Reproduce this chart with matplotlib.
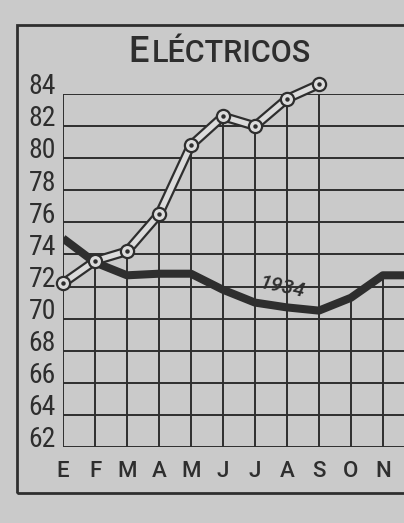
import matplotlib.pyplot as plt
from matplotlib.patches import Rectangle

# meses (E = enero ... N = noviembre), la imagen está cortada antes de D
meses = ["E", "F", "M", "A", "M", "J", "J", "A", "S", "O", "N"]
yticks = [62, 64, 66, 68, 70, 72, 74, 76, 78, 80, 82, 84]

# serie clara (1935) solo hasta septiembre
serie_clara = [72.2, 73.6, 74.2, 76.5, 80.8, 82.6, 82.0, 83.7, 84.6]
# serie negra 1934, con diciembre (fuera del recorte)
serie_1934 = [75.0, 73.5, 72.7, 72.8, 72.8, 71.8, 71.0, 70.7, 70.5, 71.3, 72.7, 72.7]

fondo = "#cacaca"
tinta = "#2e2e2e"
fuente = ["Roboto Condensed", "Liberation Sans Narrow", "DejaVu Sans"]
fuente_ancha = ["Roboto", "DejaVu Sans"]

fig = plt.figure(figsize=(4.04, 5.23), dpi=100, facecolor=fondo)
ax = fig.add_axes([0.156, 0.1453, 0.844, 0.675])
ax.set_facecolor(fondo)
ax.set_xlim(0, 10.66)
ax.set_ylim(62, 84)
for s in ax.spines.values():
    s.set_visible(False)
ax.set_xticks([])
ax.set_yticks([])

# marco exterior
fig.patches.append(Rectangle((0.042, 0.0574), 1.2, 0.8946, transform=fig.transFigure,
                             fill=False, edgecolor=tinta, linewidth=2.0))

# cuadrícula horizontal completa
ax.hlines(yticks, 0, 10.66, color=tinta, linewidth=1.4, zorder=1)
# verticales hasta la curva más alta
for i in range(len(meses)):
    tope = serie_1934[i]
    if i < len(serie_clara):
        tope = max(tope, serie_clara[i])
    if i == 0:
        tope = 84
    ax.vlines(i, 62, tope, color=tinta, linewidth=1.4, zorder=1)

# 1934
ax.plot(range(len(serie_1934)), serie_1934, color=tinta, linewidth=5.8,
        solid_joinstyle="round", solid_capstyle="butt", zorder=3, clip_on=True)
ax.text(6.85, 71.95, "1934", rotation=-12, fontsize=15, style="italic",
        weight="medium", color=tinta, ha="center", va="center", zorder=4,
        family=fuente_ancha)

# serie hueca con círculos
xc = range(len(serie_clara))
ax.plot(xc, serie_clara, color=tinta, linewidth=7.0, solid_capstyle="butt",
        zorder=5, clip_on=False)
ax.plot(xc, serie_clara, color="#dcdcdc", linewidth=3.8, solid_capstyle="butt",
        zorder=6, clip_on=False)
ax.plot(xc, serie_clara, linestyle="none", marker="o", markersize=9.5,
        markerfacecolor="#dcdcdc", markeredgecolor=tinta, markeredgewidth=1.6,
        zorder=7, clip_on=False)
ax.plot(xc, serie_clara, linestyle="none", marker="o", markersize=2.2,
        color=tinta, zorder=8, clip_on=False)

# etiquetas
for v in yticks:
    ax.text(-0.22, v + 0.45, str(v), transform=ax.transData, ha="right",
            va="center", fontsize=20, color=tinta,
            family=fuente, fontstretch="condensed")
for i, m in enumerate(meses):
    ax.text(i, 60.45, m, ha="center", va="center", fontsize=16,
            weight="medium", color=tinta, family=fuente_ancha)

fig.text(0.368, 0.8815, "E", fontsize=26, weight="medium", color=tinta,
         ha="right", va="baseline", family=fuente_ancha)
fig.text(0.375, 0.8815, "LÉCTRICOS", fontsize=22, weight="medium", color=tinta,
         ha="left", va="baseline", family=fuente_ancha)

fig.savefig("out.png", dpi=100, facecolor=fondo)
